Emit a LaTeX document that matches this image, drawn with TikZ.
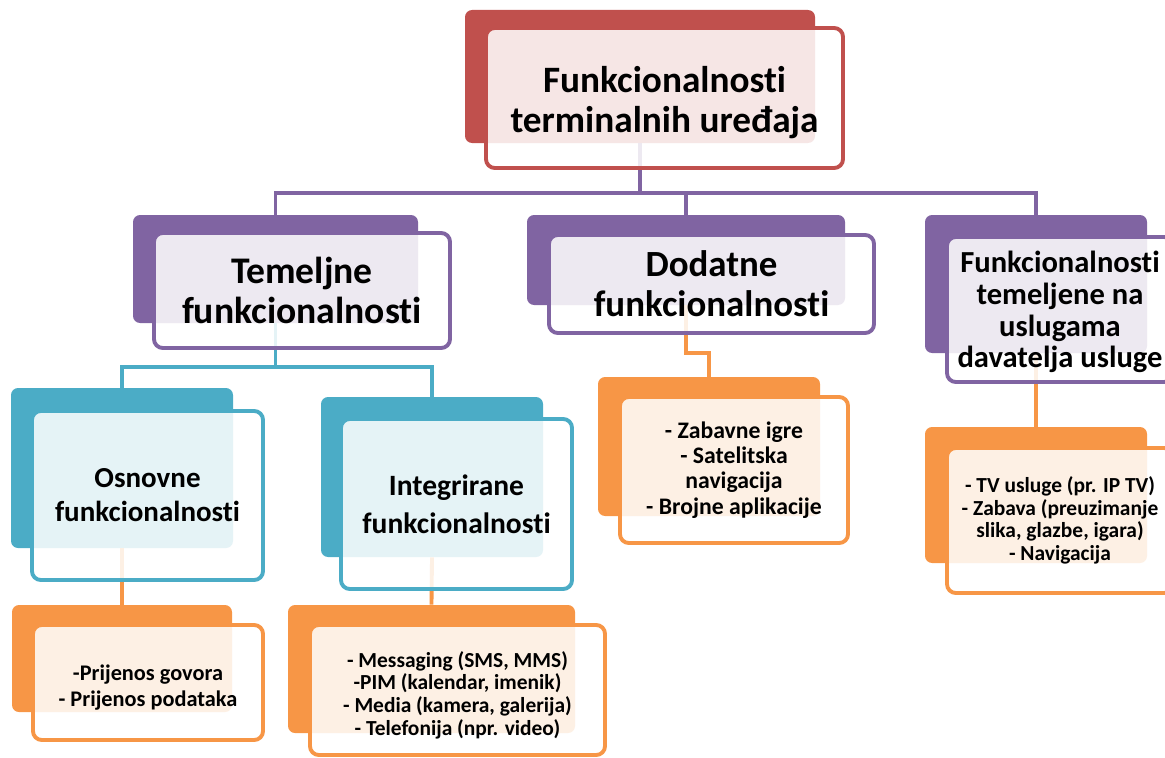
\documentclass[tikz,border=0pt]{standalone}
\usepackage{fontspec}
\setmainfont{Carlito}[Ligatures=NoCommon]
\usetikzlibrary{fit}

\definecolor{accRed}{HTML}{C0504D}
\definecolor{accPurple}{HTML}{8064A2}
\definecolor{accTeal}{HTML}{4BACC6}
\definecolor{accOrange}{HTML}{F79646}

\tikzset{
  backbox/.style={rectangle,rounded corners=4pt,fill=#1,inner sep=0pt},
  frontbox/.style={rectangle,rounded corners=5pt,draw=#1,line width=2.2pt,
    fill=white,fill opacity=0.86,inner sep=0pt},
  boxtext/.style={align=center,inner sep=0pt},
  link/.style={draw=#1,line width=2.2pt},
}

\begin{document}
\begin{tikzpicture}[x=0.02cm,y=-0.02cm]
\useasboundingbox (0,0) rectangle (1165,757);

% back plates
\node[backbox=accRed,fit={(465,10) (815,143)}] (topB) {};
\node[backbox=accPurple,fit={(133,215) (418,323)}] (temB) {};
\node[backbox=accPurple,fit={(527,215) (845,305)}] (dodB) {};
\node[backbox=accPurple,fit={(925,215) (1147,353)}] (uslB) {};
\node[backbox=accTeal,fit={(11,388) (233,548)}] (osnB) {};
\node[backbox=accTeal,fit={(321,397) (543,557)}] (intB) {};
\node[backbox=accOrange,fit={(12,605) (232,712)}] (prnB) {};
\node[backbox=accOrange,fit={(288,605) (575,733)}] (msgB) {};
\node[backbox=accOrange,fit={(598,377) (820,516)}] (zabB) {};
\node[backbox=accOrange,fit={(925,427) (1147,563)}] (tvB) {};

% connectors
\coordinate (busA) at (0,193);
\coordinate (busB) at (0,367);
\coordinate (busC) at (0,353);
\draw[link=accPurple] (topB.south) -- (topB.south |- busA) -| (temB.north);
\draw[link=accPurple] (topB.south |- busA) -| (dodB.north);
\draw[link=accPurple] (topB.south |- busA) -| (uslB.north);
\draw[link=accTeal] (temB.south) -- (temB.south |- busB) -| (osnB.north);
\draw[link=accTeal] (temB.south |- busB) -| (intB.north);
\draw[link=accOrange] (osnB.south) -- (prnB.north);
\draw[link=accOrange] (intB.south) -- (msgB.north);
\draw[link=accOrange] (dodB.south) -- (dodB.south |- busC) -| (zabB.north);
\draw[link=accOrange] (uslB.south) -- (tvB.north);

% front boxes
\node[frontbox=accRed,fit={(486,28) (843,168)}] (topF) {};
\node[frontbox=accPurple,fit={(154,233) (450,348)}] (temF) {};
\node[frontbox=accPurple,fit={(549,235) (874,333)}] (dodF) {};
\node[frontbox=accPurple,fit={(947,237) (1173,382)}] (uslF) {};
\node[frontbox=accTeal,fit={(32,411) (263,580)}] (osnF) {};
\node[frontbox=accTeal,fit={(341,419) (572,589)}] (intF) {};
\node[frontbox=accOrange,fit={(33,625) (263,740)}] (prnF) {};
\node[frontbox=accOrange,fit={(310,625) (605,755)}] (msgF) {};
\node[frontbox=accOrange,fit={(620,397) (848,543)}] (zabF) {};
\node[frontbox=accOrange,fit={(947,448) (1173,593)}] (tvF) {};

% texts
\node[boxtext,yshift=-2.8pt,font=\bfseries\fontsize{21.2}{22.7}\selectfont] (topT) at (topF.center) {Funkcionalnosti\\terminalnih uređaja};
\node[boxtext,font=\bfseries\fontsize{21.4}{22.7}\selectfont] (temT) at (temF.center) {Temeljne\\funkcionalnosti};
\node[boxtext,font=\bfseries\fontsize{21}{22.7}\selectfont] (dodT) at (dodF.center) {Dodatne\\funkcionalnosti};
\node[boxtext,yshift=-1.5pt,font=\bfseries\fontsize{17.4}{18.1}\selectfont] (uslT) at (uslF.center) {Funkcionalnosti\\temeljene na\\uslugama\\davatelja usluge};
\node[boxtext,font=\bfseries\fontsize{16.5}{19.3}\selectfont] (osnT) at (osnF.center) {Osnovne\\funkcionalnosti};
\node[boxtext,font=\bfseries\fontsize{16.8}{21.5}\selectfont] (intT) at (intF.center) {Integrirane\\funkcionalnosti};
\node[boxtext,yshift=-2.8pt,font=\bfseries\fontsize{12.7}{14.7}\selectfont] (prnT) at (prnF.center) {-Prijenos govora\\- Prijenos podataka};
\node[boxtext,yshift=-2.8pt,font=\bfseries\fontsize{12.2}{12.9}\selectfont] (msgT) at (msgF.center) {- Messaging (SMS, MMS)\\-PIM (kalendar, imenik)\\- Media (kamera, galerija)\\- Telefonija (npr. video)};
\node[boxtext,font=\bfseries\fontsize{13.5}{14.3}\selectfont] (zabT) at (zabF.center) {- Zabavne igre\\- Satelitska\\navigacija\\- Brojne aplikacije};
\node[boxtext,font=\bfseries\fontsize{12.2}{12.9}\selectfont] (tvT) at (tvF.center) {- TV usluge (pr. IP TV)\\- Zabava (preuzimanje\\slika, glazbe, igara)\\- Navigacija};
\end{tikzpicture}
\end{document}
